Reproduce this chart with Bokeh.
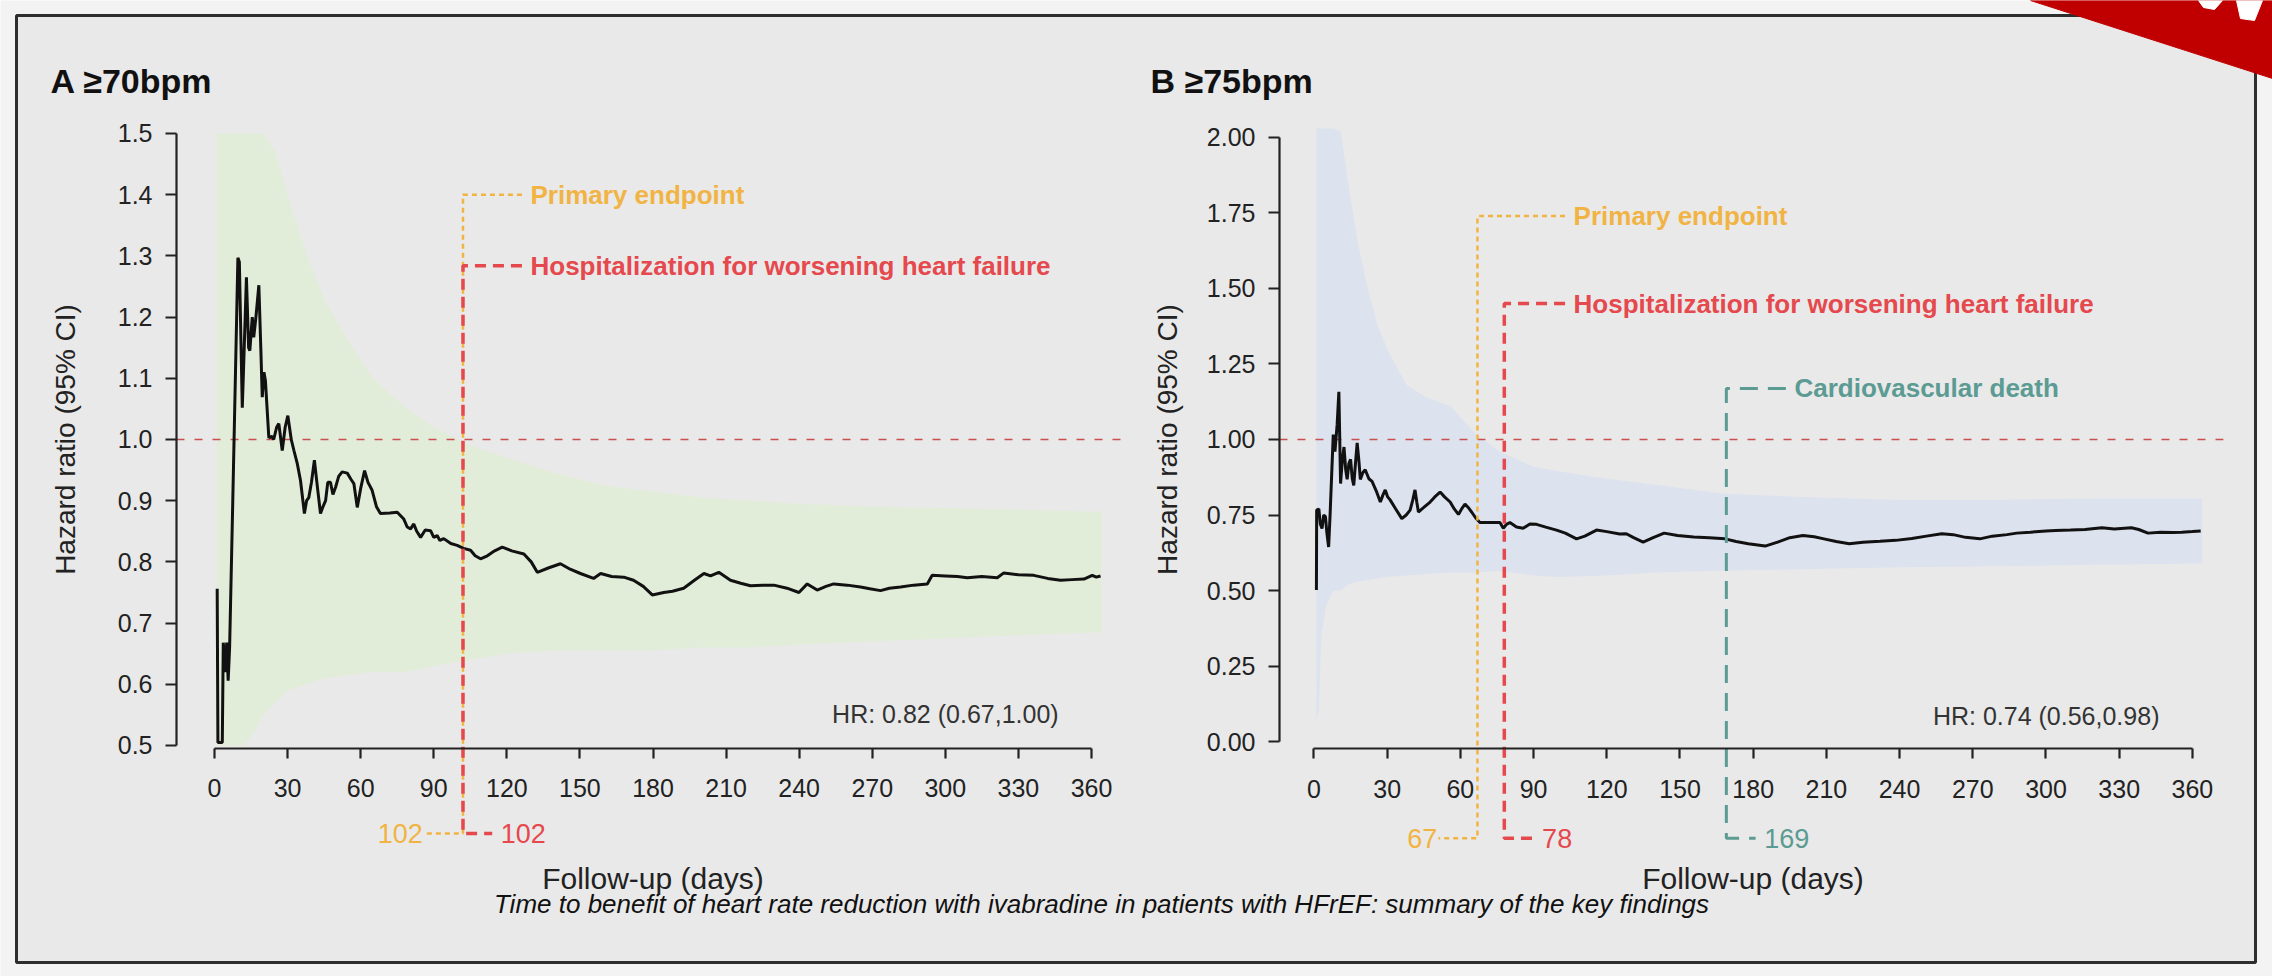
from bokeh.plotting import figure
from bokeh.models import Range1d, LinearAxis, FixedTicker, NumeralTickFormatter, Label
from bokeh.embed import file_html
from bokeh.resources import INLINE

W, H = 2272, 976
FONT = "Liberation Sans"

# ---------------- data: panel A (>=70 bpm) ----------------
a_days = [1.1, 1.4, 3.2, 3.6, 4.4, 5.0, 5.6, 6.2, 7.5, 9.6, 10.2, 11.4, 12.2, 13.1, 14.0, 14.5, 15.5, 16.1,
          17.0, 18.2, 19.0, 19.6, 20.3, 20.9, 22.3, 23.5, 24.3, 25.5, 26.4, 27.8, 29.0, 30.1, 31.5, 32.6,
          34.0, 35.3, 36.9, 37.8, 38.7, 39.8, 41.0, 42.3, 43.5, 44.5, 45.6, 46.5, 47.6, 48.6, 49.7, 51.0,
          52.4, 54.5, 56.0, 57.2, 58.6, 60.0, 61.6, 63.0, 64.7, 66.5, 68.1, 72.0, 75.0, 77.7, 79.1, 80.5,
          81.8, 83.0, 84.6, 86.5, 88.7, 90.0, 91.4, 92.5, 94.1, 97.0, 99.6, 102.3, 105.1, 107.0, 109.2,
          112.0, 115.0, 118.1, 122.0, 127.0, 130.0, 132.5, 137.0, 142.0, 146.0, 150.2, 155.6, 158.5, 163.0,
          168.0, 172.0, 176.0, 179.7, 184.4, 188.0, 192.6, 197.0, 200.9, 203.6, 207.0, 211.8, 216.0, 220.0,
          225.0, 229.6, 235.0, 239.9, 243.3, 247.4, 251.0, 254.2, 259.7, 265.2, 269.0, 273.4, 277.0, 281.6,
          287.0, 292.6, 294.6, 300.0, 305.0, 309.0, 315.0, 321.3, 324.0, 330.0, 336.3, 342.0, 347.3, 352.0,
          356.9, 360.3, 362.0, 363.7]
a_hr = [0.756, 0.505, 0.505, 0.668, 0.620, 0.668, 0.606, 0.660, 0.900, 1.297, 1.290, 1.052, 1.150, 1.265,
        1.150, 1.145, 1.200, 1.167, 1.200, 1.252, 1.150, 1.069, 1.110, 1.096, 1.003, 1.005, 1.000, 1.020,
        1.026, 0.982, 1.020, 1.039, 1.000, 0.982, 0.960, 0.933, 0.879, 0.900, 0.905, 0.930, 0.966, 0.920,
        0.879, 0.890, 0.900, 0.930, 0.930, 0.910, 0.922, 0.940, 0.947, 0.945, 0.935, 0.928, 0.889, 0.920,
        0.949, 0.930, 0.917, 0.890, 0.879, 0.880, 0.881, 0.870, 0.857, 0.854, 0.862, 0.850, 0.840, 0.852,
        0.851, 0.840, 0.843, 0.835, 0.838, 0.830, 0.827, 0.822, 0.819, 0.810, 0.805, 0.810, 0.818, 0.824,
        0.818, 0.813, 0.800, 0.783, 0.790, 0.797, 0.788, 0.781, 0.773, 0.781, 0.776, 0.775, 0.770, 0.760,
        0.746, 0.750, 0.752, 0.757, 0.770, 0.781, 0.777, 0.783, 0.770, 0.765, 0.761, 0.762, 0.762, 0.757,
        0.750, 0.764, 0.754, 0.760, 0.764, 0.762, 0.759, 0.756, 0.753, 0.757, 0.759, 0.762, 0.764, 0.778,
        0.777, 0.776, 0.774, 0.776, 0.774, 0.782, 0.779, 0.778, 0.773, 0.770, 0.771, 0.772, 0.778, 0.775,
        0.777]
a_ci_days = [1, 3, 6, 9, 12, 16, 20, 25, 30, 38, 45, 55, 65, 79, 90, 105, 120, 140, 160, 180, 200, 220,
             240, 270, 300, 330, 364]
a_ci_up = [1.5, 1.5, 1.5, 1.5, 1.5, 1.5, 1.5, 1.47, 1.40, 1.30, 1.23, 1.16, 1.10, 1.05, 1.02, 0.99, 0.97,
           0.945, 0.925, 0.915, 0.905, 0.90, 0.895, 0.89, 0.888, 0.885, 0.882]
a_ci_lo = [0.5, 0.5, 0.5, 0.5, 0.5, 0.52, 0.55, 0.57, 0.59, 0.60, 0.61, 0.615, 0.62, 0.62, 0.63, 0.64,
           0.65, 0.655, 0.655, 0.655, 0.66, 0.66, 0.665, 0.67, 0.675, 0.68, 0.685]

# ---------------- data: panel B (>=75 bpm) ----------------
b_days = [1.0, 1.1, 2.0, 2.6, 3.3, 4.0, 4.7, 5.3, 6.0, 6.6, 7.9, 8.6, 9.5, 10.2, 10.9, 11.6, 12.3, 13.0,
          13.6, 14.3, 15.0, 15.7, 16.3, 17.0, 17.7, 18.4, 19.0, 20.0, 21.0, 22.5, 23.8, 25.5, 27.2, 28.2,
          29.2, 30.2, 31.2, 33.5, 36.0, 37.8, 39.4, 40.5, 41.4, 42.2, 42.8, 45.0, 47.6, 49.5, 51.7, 53.5,
          55.8, 57.5, 59.2, 60.5, 61.9, 63.2, 64.6, 66.3, 68.0, 72.0, 76.2, 77.6, 79.0, 80.3, 83.0, 85.7,
          88.5, 91.2, 95.0, 99.4, 103.0, 107.6, 111.0, 115.8, 120.0, 125.3, 128.0, 131.0, 134.9, 139.0,
          143.5, 149.0, 155.6, 162.0, 168.5, 173.0, 178.0, 184.9, 190.0, 195.0, 200.4, 205.0, 209.0, 214.0,
          219.4, 225.0, 232.0, 238.4, 245.0, 251.0, 257.3, 262.0, 267.0, 272.9, 278.0, 284.0, 288.0, 293.6,
          300.0, 303.9, 310.0, 316.0, 322.9, 328.0, 335.0, 338.0, 341.8, 347.0, 352.0, 355.7, 360.0, 363.4]
b_hr = [0.502, 0.766, 0.770, 0.720, 0.705, 0.750, 0.745, 0.690, 0.644, 0.750, 1.016, 0.960, 1.050, 1.158,
        0.854, 0.930, 0.975, 0.900, 0.868, 0.920, 0.934, 0.870, 0.848, 0.920, 0.989, 0.930, 0.868, 0.890,
        0.900, 0.870, 0.861, 0.830, 0.793, 0.815, 0.833, 0.810, 0.800, 0.770, 0.738, 0.750, 0.766, 0.800,
        0.833, 0.790, 0.760, 0.775, 0.793, 0.810, 0.826, 0.810, 0.793, 0.770, 0.752, 0.770, 0.786, 0.775,
        0.760, 0.740, 0.725, 0.725, 0.725, 0.706, 0.720, 0.725, 0.710, 0.706, 0.720, 0.719, 0.710, 0.700,
        0.690, 0.671, 0.680, 0.700, 0.695, 0.687, 0.688, 0.675, 0.660, 0.675, 0.690, 0.682, 0.677, 0.675,
        0.671, 0.662, 0.655, 0.647, 0.660, 0.675, 0.682, 0.678, 0.671, 0.662, 0.655, 0.660, 0.663, 0.666,
        0.672, 0.680, 0.688, 0.685, 0.676, 0.671, 0.680, 0.685, 0.690, 0.693, 0.697, 0.699, 0.700, 0.702,
        0.708, 0.704, 0.708, 0.702, 0.690, 0.693, 0.692, 0.693, 0.695, 0.697]
b_ci_days = [1, 2, 3, 5, 8, 11, 14, 18, 22, 26, 30, 38, 46, 56, 66, 76, 90, 100, 120, 140, 168, 200, 240,
             280, 320, 364]
b_ci_up = [2.03, 2.03, 2.03, 2.03, 2.03, 2.02, 1.85, 1.65, 1.50, 1.38, 1.30, 1.18, 1.14, 1.11, 1.02, 0.96,
           0.91, 0.895, 0.87, 0.85, 0.82, 0.81, 0.80, 0.80, 0.805, 0.805]
b_ci_lo = [0.07, 0.10, 0.35, 0.45, 0.50, 0.50, 0.52, 0.53, 0.535, 0.54, 0.545, 0.55, 0.555, 0.56, 0.56,
           0.565, 0.55, 0.545, 0.55, 0.56, 0.566, 0.57, 0.577, 0.58, 0.585, 0.589]

# ---------------- ticks and annotations ----------------
x_ticks = [0, 30, 60, 90, 120, 150, 180, 210, 240, 270, 300, 330, 360]
a_y_ticks = [0.5, 0.6, 0.7, 0.8, 0.9, 1.0, 1.1, 1.2, 1.3, 1.4, 1.5]
b_y_ticks = [0.0, 0.25, 0.5, 0.75, 1.0, 1.25, 1.5, 1.75, 2.0]

a_event_names = ["Primary endpoint", "Hospitalization for worsening heart failure"]
a_event_days = [102, 102]
a_event_top = [1.40, 1.284]
a_event_side = ["left", "right"]
a_event_textx = [129.7, 129.7]

b_event_names = ["Primary endpoint", "Hospitalization for worsening heart failure", "Cardiovascular death"]
b_event_days = [67, 78, 169]
b_event_top = [1.74, 1.45, 1.169]
b_event_side = ["left", "right", "right"]
b_event_textx = [106.4, 106.4, 196.9]

ORANGE, RED, TEAL = "#f1b444", "#e5484d", "#5b9b93"
a_event_colors = [ORANGE, RED]
b_event_colors = [ORANGE, RED, TEAL]
event_dash = {ORANGE: "5 4", RED: "11 7", TEAL: "18 10"}
event_width = {ORANGE: 2.5, RED: 3.5, TEAL: 3}

p = figure(width=W, height=H, x_range=Range1d(0, W), y_range=Range1d(H, 0),
           output_backend="svg", toolbar_location=None,
           x_axis_location=None, y_axis_location=None, min_border=0,
           outline_line_color=None, background_fill_color="#f3f3f3",
           border_fill_color="#f3f3f3")
p.grid.visible = False

p.extra_x_ranges = {"ax": Range1d(-87.85, 844.79), "bx": Range1d(-538.3, 392.83)}
p.extra_y_ranges = {"ay": Range1d(0.1225, 1.7173), "by": Range1d(-0.7781, 2.4536)}

# page frame + corner banner (decoration, page pixels)
p.quad(left=[16], right=[2255], top=[15], bottom=[962], fill_color="#e9e9e9",
       line_color="#2e2e2e", line_width=3)
p.patch([2030, 2272, 2272], [0, 0, 78], color="#c00000")
p.patch([2198, 2222, 2214, 2203], [0, 0, 9, 7], color="white")
p.patch([2236, 2262, 2254, 2240], [0, 0, 20, 18], color="white")


def panel(xr, yr, ci_days, ci_lo, ci_up, band_color, days, hr, yticks, yfmt, yaxis_x, xaxis_y,
          x_end, ylab_standoff, names, edays, tops, sides, textx, colors, bottom_y, hr_text, hr_y):
    kw = dict(x_range_name=xr, y_range_name=yr)
    p.varea(x=ci_days, y1=ci_lo, y2=ci_up, fill_color=band_color, **kw)
    p.segment(x0=[yaxis_x], y0=[1.0], x1=[x_end], y1=[1.0], line_color="#c9504f",
              line_width=1.6, line_dash="8 10", **kw)
    p.line(days, hr, line_color="#111111", line_width=3, **kw)

    for name, d, top, side, tx, c in zip(names, edays, tops, sides, textx, colors):
        end = d - 16 if side == "left" else d + 12
        p.line([tx - 3.5, d, d, end], [top, top, bottom_y, bottom_y], line_color=c,
               line_width=event_width[c], line_dash=event_dash[c], **kw)
        p.add_layout(Label(x=tx, y=top, text=name, text_color=c, text_font=FONT,
                           text_font_style="bold", text_font_size="26px",
                           text_baseline="middle", text_align="left", **kw))
        if side == "left":
            p.add_layout(Label(x=d - 16.5, y=bottom_y, text=str(d), text_color=c, text_font=FONT,
                               text_font_size="27px", text_baseline="middle", text_align="right", **kw))
        else:
            p.add_layout(Label(x=d + 15.5, y=bottom_y, text=str(d), text_color=c, text_font=FONT,
                               text_font_size="27px", text_baseline="middle", text_align="left", **kw))

    p.add_layout(Label(x=346.5, y=hr_y, text=hr_text, text_color="#333333", text_font=FONT,
                       text_font_size="25px", text_baseline="middle", text_align="right", **kw))

    common = dict(major_tick_in=0, minor_tick_in=0, minor_tick_out=0, axis_line_width=2.2,
                  major_tick_line_width=2.2, axis_line_color="#222222", major_tick_line_color="#222222",
                  major_label_text_font=FONT, major_label_text_font_size="25px",
                  major_label_text_color="#222222", axis_label_text_font=FONT,
                  axis_label_text_font_style="normal", axis_label_text_color="#222222", **kw)
    yax = LinearAxis(fixed_location=yaxis_x, bounds=(yticks[0], yticks[-1]),
                     ticker=FixedTicker(ticks=yticks), formatter=NumeralTickFormatter(format=yfmt),
                     axis_label="Hazard ratio (95% CI)", axis_label_text_font_size="28px",
                     major_tick_out=11, major_label_standoff=13, axis_label_standoff=ylab_standoff,
                     **common)
    p.add_layout(yax, "left")
    xax = LinearAxis(fixed_location=xaxis_y, bounds=(0, 360), ticker=FixedTicker(ticks=x_ticks),
                     axis_label="Follow-up (days)", axis_label_text_font_size="30px",
                     major_tick_out=10, major_label_standoff=21, axis_label_standoff=61, **common)
    p.add_layout(xax, "below")


panel("ax", "ay", a_ci_days, a_ci_lo, a_ci_up, "#e2edd9", a_days, a_hr, a_y_ticks, "0.0",
      -15.6, 0.4951, 372.7, 34, a_event_names, a_event_days, a_event_top, a_event_side,
      a_event_textx, a_event_colors, 0.356, "HR: 0.82 (0.67,1.00)", 0.552)
panel("bx", "by", b_ci_days, b_ci_lo, b_ci_up, "#dce2ee", b_days, b_hr, b_y_ticks, "0.00",
      -14.14, -0.0232, 372.7, 21, b_event_names, b_event_days, b_event_top, b_event_side,
      b_event_textx, b_event_colors, -0.32, "HR: 0.74 (0.56,0.98)", 0.086)

# panel titles and caption (page pixels)
p.add_layout(Label(x=50, y=80, text="A \u226570bpm", text_font=FONT, text_font_style="bold",
                   text_font_size="34px", text_color="#111111", text_baseline="middle"))
p.add_layout(Label(x=1150, y=80, text="B \u226575bpm", text_font=FONT, text_font_style="bold",
                   text_font_size="34px", text_color="#111111", text_baseline="middle"))
p.add_layout(Label(x=1101, y=903,
                   text="Time to benefit of heart rate reduction with ivabradine in patients with HFrEF: "
                        "summary of the key findings",
                   text_font=FONT, text_font_style="italic", text_font_size="26px",
                   text_color="#111111", text_align="center", text_baseline="middle"))

open("out.html", "w").write(file_html(p, INLINE))
